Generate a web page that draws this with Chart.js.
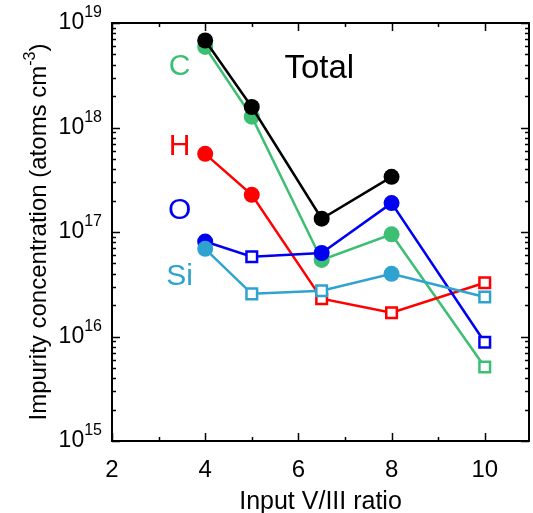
<!DOCTYPE html>
<html>
<head>
<meta charset="utf-8">
<script src="https://cdn.jsdelivr.net/npm/chart.js@4/dist/chart.umd.min.js"></script>
<style>
  html, body { margin: 0; padding: 0; background: #fff; }
  canvas { display: block; }
</style>
</head>
<body>
<canvas id="chart" width="533" height="513"></canvas>
<script>
"use strict";
// input V/III ratio for each sample
const ratio = [4, 5, 6.5, 8, 10];
// impurity concentrations (atoms cm-3), null = not measured
const totalConc = [6.8e18, 1.57e18, 1.34e17, 3.37e17, null];
const carbon = [5.9e18, 1.27e18, 5.4e16, 9.5e16, 5.1e15];
const hydrogen = [5.6e17, 2.27e17, 2.3e16, 1.69e16, 3.27e16];
const oxygen = [8.1e16, 5.8e16, 6.3e16, 1.89e17, 8.8e15];
const silicon = [6.9e16, 2.56e16, 2.74e16, 3.98e16, 2.39e16];
// marker kind: "c" = filled circle, "s" = open square (detection limit)
const totalMarks = ["c", "c", "c", "c"];
const carbonMarks = ["c", "c", "c", "c", "s"];
const hydrogenMarks = ["c", "c", "s", "s", "s"];
const oxygenMarks = ["c", "s", "c", "c", "s"];
const siliconMarks = ["c", "s", "s", "c", "s"];

const xTicks = [2, 4, 6, 8, 10];
const yExponents = [15, 16, 17, 18, 19];

// in-plot labels: [text, x, y, colour, font size]
const seriesLabels = [
    ["C", 3.45, 3.8e18, "#3cbf72", 30],
    ["H", 3.45, 6.6e17, "#ff0000", 30],
    ["O", 3.45, 1.6e17, "#0000f2", 30],
    ["Si", 3.45, 3.7e16, "#2fa3cf", 30],
    ["Total", 6.45, 3.6e18, "#000000", 33]
];

const FONT = "'Liberation Sans', Arial, sans-serif";

function makeSet(label, values, marks, colour, order) {
    const data = [];
    const styles = [];
    const fills = [];
    const radii = [];
    const borders = [];
    values.forEach((v, i) => {
        if(v == null) return;
        data.push({x: ratio[i], y: v});
        const square = marks[i] === "s";
        styles.push(square ? "rect" : "circle");
        fills.push(square ? "#ffffff" : colour);
        radii.push(square ? 7.5 : 8);
        borders.push(square ? 2.5 : 0);
    });
    return {
        label: label,
        data: data,
        showLine: true,
        borderColor: colour,
        borderWidth: 2.5,
        pointStyle: styles,
        pointBackgroundColor: fills,
        pointBorderColor: colour,
        pointBorderWidth: borders,
        pointRadius: radii,
        pointHoverRadius: radii,
        order: order
    };
}

function drawPower(ctx, exp, xRight, y) {
    ctx.font = "23px " + FONT;
    const baseW = ctx.measureText("10").width;
    ctx.font = "16px " + FONT;
    const expW = ctx.measureText(String(exp)).width;
    ctx.textAlign = "left";
    ctx.textBaseline = "middle";
    ctx.font = "23px " + FONT;
    ctx.fillText("10", xRight - baseW - expW, y);
    ctx.font = "16px " + FONT;
    ctx.fillText(String(exp), xRight - expW, y - 10);
}

const framePlugin = {
    id: "frame",
    afterDraw(chart) {
        const ctx = chart.ctx;
        const area = chart.chartArea;
        const xs = chart.scales.x;
        const ys = chart.scales.y;
        ctx.save();
        ctx.strokeStyle = "#000";
        ctx.fillStyle = "#000";
        ctx.lineWidth = 2;
        ctx.strokeRect(area.left, area.top, area.right - area.left, area.bottom - area.top);

        ctx.lineWidth = 1.5;
        ctx.beginPath();
        // x ticks, major every 2, minor on odd values
        for(let v = 2; v <= 10; v++) {
            const px = Math.round(xs.getPixelForValue(v)) + 0.5;
            const len = v % 2 === 0 ? 8 : 4;
            ctx.moveTo(px, area.bottom);
            ctx.lineTo(px, area.bottom - len);
            ctx.moveTo(px, area.top);
            ctx.lineTo(px, area.top + len);
        }
        // y ticks, log decades with minor 2..9
        yExponents.forEach(e => {
            for(let m = 1; m <= 9; m++) {
                if(e === 19 && m > 1) break;
                const py = Math.round(ys.getPixelForValue(m * Math.pow(10, e))) + 0.5;
                const len = m === 1 ? 8 : 4;
                ctx.moveTo(area.left, py);
                ctx.lineTo(area.left + len, py);
                ctx.moveTo(area.right, py);
                ctx.lineTo(area.right - len, py);
            }
        });
        ctx.stroke();

        // tick labels
        ctx.font = "24px " + FONT;
        ctx.textAlign = "center";
        ctx.textBaseline = "middle";
        xTicks.forEach(v => {
            ctx.fillText(String(v), xs.getPixelForValue(v), area.bottom + 29);
        });
        yExponents.forEach(e => {
            drawPower(ctx, e, area.left - 10, ys.getPixelForValue(Math.pow(10, e)));
        });

        // x axis title
        ctx.font = "25px " + FONT;
        ctx.textAlign = "center";
        ctx.textBaseline = "alphabetic";
        ctx.fillText("Input V/III ratio", (area.left + area.right) / 2, 509);

        // y axis title, rotated, with superscript -3
        ctx.save();
        ctx.translate(46, (area.top + area.bottom) / 2);
        ctx.rotate(-Math.PI / 2);
        const main = "Impurity concentration (atoms cm";
        ctx.font = "24px " + FONT;
        const mainW = ctx.measureText(main).width;
        const closeW = ctx.measureText(")").width;
        ctx.font = "16px " + FONT;
        const supW = ctx.measureText("-3").width;
        let x0 = -(mainW + supW + closeW) / 2;
        ctx.textAlign = "left";
        ctx.textBaseline = "alphabetic";
        ctx.font = "24px " + FONT;
        ctx.fillText(main, x0, 0);
        ctx.font = "16px " + FONT;
        ctx.fillText("-3", x0 + mainW, -11);
        ctx.font = "24px " + FONT;
        ctx.fillText(")", x0 + mainW + supW, 0);
        ctx.restore();

        // series labels
        ctx.textAlign = "center";
        ctx.textBaseline = "middle";
        seriesLabels.forEach(([text, x, y, colour, size]) => {
            ctx.font = size + "px " + FONT;
            ctx.fillStyle = colour;
            ctx.fillText(text, xs.getPixelForValue(x), ys.getPixelForValue(y));
        });
        ctx.restore();
    }
};

new Chart(document.getElementById("chart"), {
    type: "scatter",
    data: {
        datasets: [
            makeSet("Total", totalConc, totalMarks, "#000000", 0),
            makeSet("Si", silicon, siliconMarks, "#2fa3cf", 1),
            makeSet("O", oxygen, oxygenMarks, "#0000f2", 2),
            makeSet("H", hydrogen, hydrogenMarks, "#ff0000", 3),
            makeSet("C", carbon, carbonMarks, "#3cbf72", 4)
        ]
    },
    options: {
        responsive: false,
        animation: false,
        devicePixelRatio: 1,
        layout: {autoPadding: false, padding: {left: 0, right: 4, top: 23, bottom: 0}},
        plugins: {legend: {display: false}, tooltip: {enabled: false}},
        scales: {
            x: {
                type: "linear",
                min: 2,
                max: 10.95,
                grid: {display: false},
                border: {display: false},
                ticks: {display: false},
                afterFit(scale) { scale.height = 72; }
            },
            y: {
                type: "logarithmic",
                min: 1e15,
                max: 1e19,
                grid: {display: false},
                border: {display: false},
                ticks: {display: false},
                afterFit(scale) { scale.width = 112; }
            }
        }
    },
    plugins: [framePlugin]
});
</script>
</body>
</html>
